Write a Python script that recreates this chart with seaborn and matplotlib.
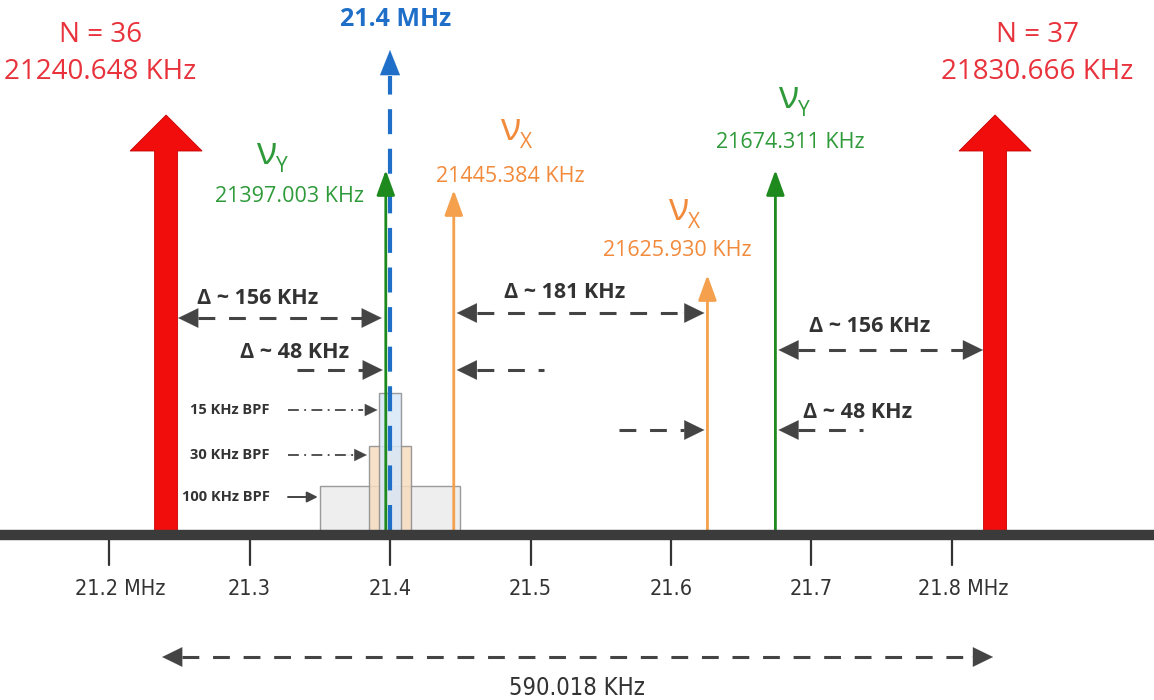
import numpy as np
import matplotlib
matplotlib.use("Agg")
import matplotlib.pyplot as plt
import seaborn as sns
from matplotlib.patches import Rectangle

# ── Data (MHz) ─────────────────────────────────────────────────────────────
carrier_n = [36, 37]
carrier_freq = [21.240648, 21.830666]
if_freq = 21.4
tone_names = ["Y", "X", "X", "Y"]
tone_freq = [21.397003, 21.445384, 21.625930, 21.674311]
bpf_khz = [100, 30, 15]
bpf_labels = ["100 KHz BPF", "30 KHz BPF", "15 KHz BPF"]
tick_vals = [21.2, 21.3, 21.4, 21.5, 21.6, 21.7, 21.8]
tick_labels = ["21.2 MHz", "21.3", "21.4", "21.5", "21.6", "21.7", "21.8 MHz"]
delta_labels = ["Δ ~ 156 KHz", "Δ ~ 48 KHz", "Δ ~ 181 KHz", "Δ ~ 156 KHz", "Δ ~ 48 KHz"]
span_label = "590.018 KHz"

# ── Style ──────────────────────────────────────────────────────────────────
sns.set_style("white")
plt.rcParams["font.family"] = ["Open Sans", "DejaVu Sans"]

RED, RED_TXT = "#f20d0d", "#e8323c"
GREEN, GREEN_TXT = "#1e8a1e", "#2f9a3a"
ORANGE, ORANGE_TXT = "#f5a04c", "#f28a3c"
BLUE = "#1f6fc8"
GREY = "#444444"

PX = 1 / 1405.0            # one pixel in MHz
X0 = 21.2 - 109 * PX
BASE = 535                 # baseline y (pixel-like units, inverted)

fig = plt.figure(figsize=(11.54, 7.0), dpi=100)
ax = fig.add_axes([0, 0, 1, 1])
ax.set_xlim(X0, X0 + 1154 * PX)
ax.set_ylim(700, 0)
ax.axis("off")


def px(x):
    return X0 + x * PX


def head(x_tip, y, direction, color=GREY, size=32):
    ax.annotate("", xy=(x_tip, y), xytext=(x_tip - direction * 22 * PX, y),
                arrowprops=dict(arrowstyle="-|>,head_length=0.45,head_width=0.22",
                                color=color, lw=0.1,
                                mutation_scale=size, shrinkA=0, shrinkB=0))


def dashed(x1, x2, y, left=True, right=True, gap=20 * PX):
    a = x1 + (gap if left else 0)
    b = x2 - (gap if right else 0)
    ax.plot([a, b], [y, y], color=GREY, lw=2.2, dashes=(5.5, 4.5),
            solid_capstyle="butt", dash_capstyle="butt")
    if left:
        head(x1, y, -1)
    if right:
        head(x2, y, 1)


# ── BPF boxes ──────────────────────────────────────────────────────────────
bpf_face = ["#ebebeb", "#f6dcc0", "#d8e7f7"]
bpf_top = [486, 446, 393]
bpf_lab_y = [497, 455, 410]
for w, lab, fc, top, ly in zip(bpf_khz, bpf_labels, bpf_face, bpf_top, bpf_lab_y):
    half = w / 2000.0
    ax.add_patch(Rectangle((if_freq - half, top), 2 * half, BASE - top,
                           facecolor=fc, edgecolor="#8a8a8a", lw=1.0,
                           alpha=0.85, zorder=1))
    ax.text(px(270), ly, lab, ha="right", va="center", fontsize=10.5,
            fontweight="bold", color="#333333")
    x_end = if_freq - half - 2 * PX
    if w == 100:
        ax.annotate("", xy=(x_end, ly), xytext=(px(288), ly),
                    arrowprops=dict(arrowstyle="-|>", color=GREY, lw=1.4,
                                    mutation_scale=16, shrinkA=0, shrinkB=0))
    else:
        ax.plot([px(288), x_end - 14 * PX], [ly, ly], color=GREY, lw=1.3,
                dashes=(6, 3, 1, 3))
        head(x_end, ly, 1, size=20)

# ── Baseline and ticks ─────────────────────────────────────────────────────
sns.lineplot(x=[X0, X0 + 1154 * PX], y=[BASE, BASE], ax=ax, color="#3b3b3b",
             lw=7.5, zorder=5)
for t, lab in zip(tick_vals, tick_labels):
    ax.plot([t, t], [BASE + 5, 565], color="#333333", lw=1.6)
    off = 11 * PX if "MHz" in lab else 0
    ax.text(t + off, 589, lab, ha="center", va="center", fontsize=15.5,
            family="DejaVu Sans", fontstretch="condensed", color="#333333")

# ── Carriers (thick red arrows) ───────────────────────────────────────────
for n, f in zip(carrier_n, carrier_freq):
    ax.arrow(f, BASE - 4, 0, -(BASE - 4 - 115), width=23 * PX,
             head_width=72 * PX, head_length=36, length_includes_head=True,
             facecolor=RED, edgecolor="#c80000", lw=0.6, zorder=4)
    cx = f - 0.047 if n == 36 else f + 0.03
    ax.text(cx, 35, f"N = {n}", ha="center", va="center", fontsize=20,
            color=RED_TXT)
    ax.text(cx, 72, f"{f * 1000:.3f} KHz", ha="center", va="center",
            fontsize=20, color=RED_TXT)

# ── IF marker (blue dashed arrow) ─────────────────────────────────────────
ax.plot([if_freq, if_freq], [BASE - 5, 76], color=BLUE, lw=3.0,
        dashes=(6, 3.5), zorder=3)
ax.annotate("", xy=(if_freq, 50), xytext=(if_freq, 72),
            arrowprops=dict(arrowstyle="-|>,head_length=0.5,head_width=0.2",
                            color=BLUE, lw=0.1,
                            mutation_scale=36, shrinkA=0, shrinkB=0))
ax.text(if_freq + 6 * PX, 20, "21.4 MHz", ha="center", va="center",
        fontsize=18, fontweight="bold", color=BLUE)

# ── Tones ──────────────────────────────────────────────────────────────────
tone_top = [170, 190, 275, 170]
nu_pos = [(256, 164), (500, 140), (668, 220), (778, 108)]
lab_pos = [(290, 197), (510, 176), (677, 250), (790, 143)]
for name, f, top, (nx, ny), (lx, lyy) in zip(tone_names, tone_freq, tone_top,
                                               nu_pos, lab_pos):
    lc = GREEN if name == "Y" else ORANGE
    tc = GREEN_TXT if name == "Y" else ORANGE_TXT
    ax.annotate("", xy=(f, top), xytext=(f, BASE - 4),
                arrowprops=dict(arrowstyle="-|>,head_length=0.55,head_width=0.2",
                                color=lc, lw=2.0,
                                mutation_scale=28, shrinkA=0, shrinkB=0),
                zorder=4)
    ax.text(px(nx), ny, "ν", ha="left", va="baseline", fontsize=27, color=tc)
    ax.text(px(nx) + 20 * PX, ny + 8, name, ha="left", va="baseline",
            fontsize=15, color=tc)
    ax.text(px(lx), lyy, f"{f * 1000:.3f} KHz", ha="center", va="center",
            fontsize=15.5, color=tc)

# ── Frequency differences ─────────────────────────────────────────────────
shaft = 12 * PX
DFONT = dict(ha="center", va="center", fontsize=15.5, fontweight="bold",
             color="#333333")
dashed(carrier_freq[0] + shaft, tone_freq[0] - 4 * PX, 318)
ax.text(px(258), 298, delta_labels[0], **DFONT)

dashed(tone_freq[0] - 0.063, tone_freq[0] - 3 * PX, 370, left=False)
dashed(tone_freq[1] + 3 * PX, tone_freq[1] + 0.064, 370, right=False)
ax.text(px(295), 352, delta_labels[1], **DFONT)

dashed(tone_freq[1] + 3 * PX, tone_freq[2] - 3 * PX, 313)
ax.text(px(565), 293, delta_labels[2], **DFONT)

dashed(tone_freq[3] + 3 * PX, carrier_freq[1] - shaft, 350)
ax.text(px(870), 327, delta_labels[3], **DFONT)

dashed(tone_freq[2] - 0.063, tone_freq[2] - 3 * PX, 430, left=False)
dashed(tone_freq[3] + 3 * PX, tone_freq[3] + 0.062, 430, right=False)
ax.text(px(858), 412, delta_labels[4], **DFONT)

# ── Channel spacing ───────────────────────────────────────────────────────
dashed(carrier_freq[0] - 4 * PX, carrier_freq[1] - 2 * PX, 657)
ax.text(px(577), 688, span_label, ha="center", va="center", fontsize=17,
        family="DejaVu Sans", fontstretch="condensed", color="#333333")

fig.savefig("out.png", dpi=100, facecolor="white")
